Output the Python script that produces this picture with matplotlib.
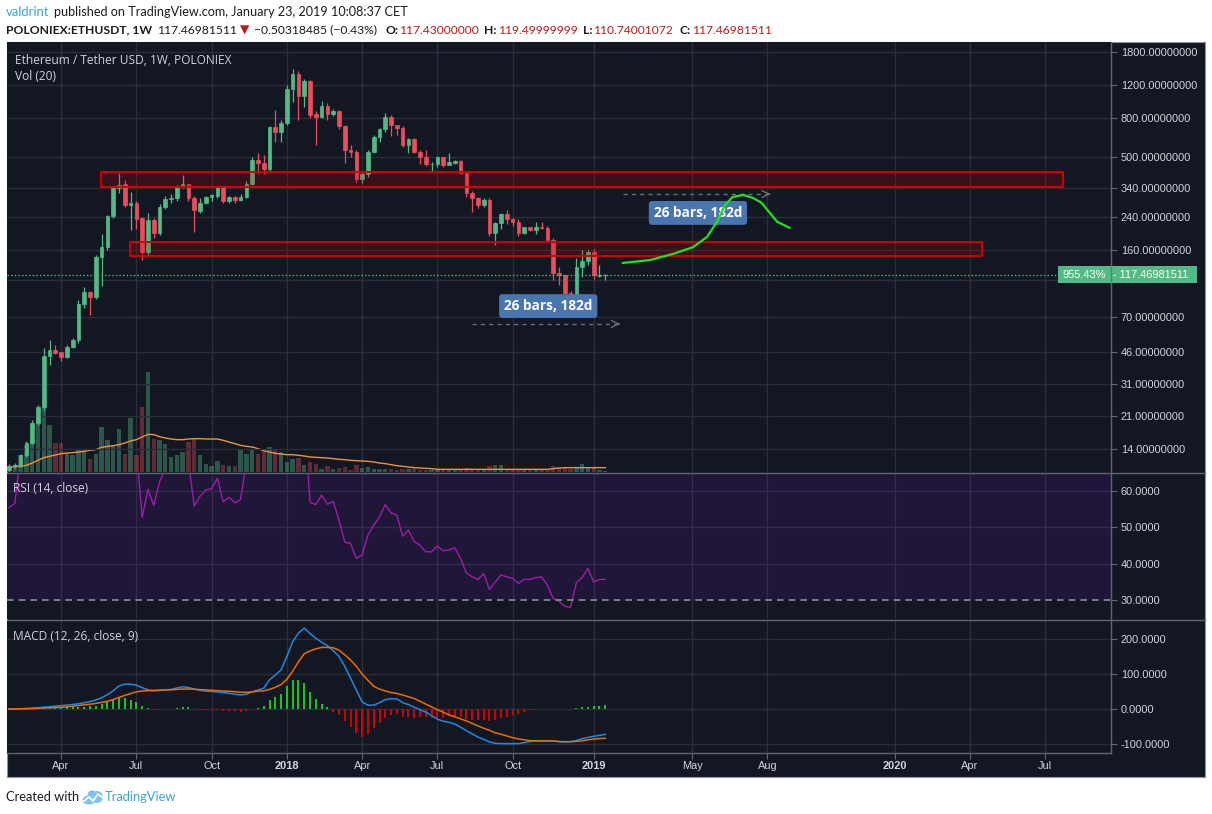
import numpy as np
import pandas as pd
import matplotlib
matplotlib.use("Agg")
import matplotlib.pyplot as plt
import matplotlib.dates as mdates
from matplotlib.lines import Line2D
from matplotlib.patches import Rectangle, Ellipse
from matplotlib.transforms import Affine2D
from matplotlib.ticker import NullLocator

plt.rcParams["font.family"] = ["Liberation Sans", "DejaVu Sans"]

# ---------------- data (weekly ETH/USDT) ----------------
first_week = "2017-01-30"
opens = [10.8, 11.3, 11.5, 12.9, 15.0, 19.2, 23.4, 43.6, 47.0, 45.5,
         43.0, 48.8, 53.0, 82.0, 95.8, 90.0, 147.0, 165.0, 241.0, 340.0,
         356.0, 276.0, 282.0, 235.0, 156.0, 229.0, 197.0, 270.0, 297.0, 303.0,
         349.0, 356.0, 300.0, 258.0, 285.0, 305.0, 310.0, 343.0, 292.0, 305.0,
         295.0, 305.0, 358.0, 478.0, 464.0, 430.0, 716.0, 680.0, 752.0, 1140.0,
         1380.0, 1050.0, 1266.0, 840.0, 816.0, 932.0, 840.0, 870.0, 728.0, 543.0,
         531.0, 378.0, 405.0, 530.0, 636.0, 705.0, 810.0, 735.0, 712.0, 575.0,
         620.0, 531.0, 500.0, 456.0, 458.0, 495.0, 453.0, 462.0, 475.0, 411.0,
         320.0, 300.0, 276.0, 295.0, 196.0, 223.0, 248.0, 232.0, 226.0, 197.0,
         211.0, 203.0, 212.0, 209.0, 180.0, 120.0, 117.0, 94.0, 89.0, 130.0,
         139.0, 155.0, 116.0, 117.43]
highs = [11.6, 11.8, 13.2, 15.3, 20.0, 23.8, 48.0, 53.0, 50.0, 46.0,
         50.0, 54.0, 86.0, 101.0, 97.0, 150.0, 195.0, 245.0, 351.0, 410.0,
         376.0, 326.0, 290.0, 240.0, 250.0, 235.0, 280.0, 310.0, 315.0, 355.0,
         400.0, 358.0, 310.0, 300.0, 310.0, 315.0, 350.0, 348.0, 308.0, 310.0,
         318.0, 370.0, 500.0, 521.0, 510.0, 730.0, 880.0, 780.0, 1200.0, 1456.0,
         1420.0, 1300.0, 1280.0, 870.0, 990.0, 960.0, 900.0, 880.0, 740.0, 580.0,
         545.0, 420.0, 545.0, 650.0, 710.0, 857.0, 830.0, 740.0, 730.0, 630.0,
         630.0, 545.0, 540.0, 470.0, 505.0, 500.0, 521.0, 480.0, 478.0, 415.0,
         330.0, 305.0, 300.0, 300.0, 225.0, 252.0, 260.0, 236.0, 232.0, 212.0,
         212.0, 225.0, 225.0, 215.0, 185.0, 130.0, 118.0, 96.0, 145.0, 160.0,
         160.0, 161.0, 132.0, 119.5]
lows = [10.6, 11.0, 11.2, 12.6, 14.8, 18.8, 22.5, 39.0, 44.5, 41.0,
        42.5, 48.0, 51.0, 78.0, 72.0, 88.0, 102.0, 160.0, 235.0, 320.0,
        270.0, 204.0, 205.0, 141.0, 150.0, 185.0, 192.0, 262.0, 285.0, 290.0,
        340.0, 290.0, 199.0, 250.0, 280.0, 290.0, 300.0, 285.0, 282.0, 285.0,
        290.0, 300.0, 352.0, 408.0, 405.0, 420.0, 600.0, 600.0, 735.0, 980.0,
        783.0, 920.0, 800.0, 577.0, 800.0, 780.0, 820.0, 700.0, 464.0, 500.0,
        365.0, 360.0, 390.0, 520.0, 600.0, 680.0, 640.0, 650.0, 565.0, 520.0,
        520.0, 459.0, 445.0, 418.0, 440.0, 440.0, 450.0, 455.0, 405.0, 305.0,
        255.0, 265.0, 270.0, 190.0, 170.0, 205.0, 220.0, 215.0, 190.0, 195.0,
        200.0, 195.0, 205.0, 175.0, 110.0, 104.0, 90.0, 86.0, 88.0, 115.0,
        133.0, 112.0, 114.0, 110.74]
closes = [11.3, 11.5, 12.9, 15.0, 19.2, 23.4, 43.6, 47.0, 45.2, 43.0,
          48.8, 53.0, 82.0, 95.8, 90.0, 147.0, 165.0, 241.0, 340.0, 352.0,
          276.0, 282.0, 233.0, 155.0, 229.0, 197.0, 271.0, 297.0, 303.0, 349.0,
          356.0, 300.0, 260.0, 285.0, 305.0, 312.0, 343.0, 292.0, 305.0, 295.0,
          305.0, 358.0, 478.0, 464.0, 430.0, 716.0, 680.0, 752.0, 1140.0, 1380.0,
          1050.0, 1266.0, 830.0, 816.0, 932.0, 840.0, 870.0, 728.0, 543.0, 531.0,
          378.0, 405.0, 530.0, 636.0, 705.0, 810.0, 735.0, 712.0, 575.0, 620.0,
          531.0, 500.0, 456.0, 458.0, 495.0, 453.0, 470.0, 475.0, 411.0, 320.0,
          300.0, 276.0, 295.0, 196.0, 223.0, 248.0, 232.0, 226.0, 197.0, 211.0,
          203.0, 212.0, 209.0, 180.0, 120.0, 117.0, 94.0, 89.0, 130.0, 139.0,
          155.0, 118.0, 117.43, 117.47]
volume = [15, 20, 50, 80, 95, 160, 195, 140, 87, 87,
          55, 52, 65, 65, 40, 55, 135, 97, 80, 130,
          55, 163, 50, 195, 300, 100, 95, 83, 45, 50,
          60, 90, 100, 50, 25, 17, 33, 20, 17, 17,
          65, 55, 70, 55, 70, 75, 67, 60, 30, 40,
          43, 20, 30, 25, 10, 17, 10, 12, 15, 5,
          20, 13, 15, 10, 10, 10, 8, 7, 8, 10,
          8, 6, 7, 6, 5, 5, 7, 5, 6, 12,
          10, 8, 6, 17, 20, 20, 8, 6, 8, 6,
          5, 6, 5, 8, 18, 12, 12, 8, 15, 23,
          15, 12, 6, 2]
volume_ma = [15, 16, 17, 20, 27, 35, 43, 47, 51, 55,
             57, 58, 60, 62, 65, 67, 74, 77, 79, 82,
             87, 93, 97, 105, 113, 112, 106, 102, 99, 97,
             97, 99, 100, 100, 99, 99, 99, 95, 90, 85,
             80, 77, 75, 70, 64, 60, 56, 54, 52, 52,
             50, 48, 45, 44, 43, 42, 40, 38, 37, 35,
             34, 33, 32, 30, 27, 25, 22, 19, 17, 15,
             13, 12, 11, 10, 8, 8, 8, 8, 8, 8,
             8, 8, 8, 8, 8, 8, 8, 8, 8, 8,
             8, 8, 8, 8, 10, 12, 13, 13, 13, 13,
             13, 13, 13, 13]
rsi = [55.5, 56.6, 70, 75, 80, 84, 88, 89, 87, 84,
       83, 84, 88, 89, 86, 89, 89, 90, 91, 90,
       80, 78, 72, 52.8, 60.5, 56.1, 62.6, 66, 70, 74,
       73, 68, 55.9, 58.6, 60.3, 60.7, 63.5, 57.1, 58.3, 56.8,
       57.7, 68, 78, 76, 72, 82, 80, 81, 86, 88,
       75, 80, 56.9, 56.3, 58.9, 56.4, 57.2, 52, 46, 45.6,
       41.5, 42.4, 47.9, 50.6, 52.9, 56.3, 54, 53.4, 47.6, 49.3,
       46.1, 45.1, 43.3, 43.3, 44.9, 43.6, 43.8, 44.4, 41.5, 37.5,
       36.4, 35.7, 37.3, 32.9, 35, 36.9, 36.4, 36, 34.6, 35.7,
       35.7, 36.2, 36.4, 34.1, 30.5, 29.7, 28.3, 28, 34.8, 36.2,
       38.7, 35, 35.7, 35.7]
macd = [0, 0.5, 1, 1.5, 2.5, 3.5, 5, 6.5, 8, 9.5,
        11, 13, 15, 18, 21, 25.7, 32, 41, 52, 66,
        71, 71, 68, 61, 55, 51.5, 53, 54, 56, 60,
        63.5, 61.5, 57, 53.5, 51, 50, 49, 47, 44.8, 42.5,
        40, 42.5, 49, 54, 59.5, 83, 97, 112, 150, 192,
        217, 231, 216, 202, 191, 181, 167, 150, 122, 88,
        54, 20, 11, 11, 18, 27, 29.5, 29, 18, 13,
        5, -2, -9, -19, -29, -35, -38, -43, -52, -62,
        -71, -80, -87, -94, -98, -99, -99, -99, -99, -96,
        -93, -91, -90.5, -90.5, -91, -93, -94.5, -93.5, -90, -85,
        -81, -78, -75, -72.5]
signal = [0, 0.2, 0.5, 0.8, 1.3, 2, 2.8, 3.6, 4.2, 4.8,
          6, 8, 10, 12, 13.5, 16, 19, 22, 27, 33,
          39, 44, 49, 51.5, 52.5, 53.3, 54, 54.5, 55, 56,
          57, 57, 56.5, 55.5, 54.5, 53.5, 52.5, 51.4, 50.5, 49.5,
          48, 47.5, 49, 51, 52, 56, 62, 70, 85, 108,
          135, 158, 166, 172, 176, 176, 175, 168, 155, 140,
          122, 100, 82, 65, 57, 51.5, 47, 44.5, 40, 35,
          30, 22, 14, 6, -2, -9, -17, -22, -28, -34,
          -41, -48, -55, -61, -68, -72, -77, -82, -85.5, -88,
          -90.5, -91, -91.4, -91.4, -91.5, -93, -93.3, -93.3, -92.5, -91,
          -88, -86, -84.5, -83.8]
last_price = 117.46981511

# drawings on the chart
zones = [("2017-05-21", "2020-07-27", 345, 414), ("2017-06-25", "2020-04-20", 148, 176)]
curve_dates = ["2019-02-11", "2019-03-16", "2019-04-13", "2019-05-07", "2019-05-24", "2019-06-05",
               "2019-06-15", "2019-06-24", "2019-07-07", "2019-07-19", "2019-07-29", "2019-08-08",
               "2019-08-17", "2019-09-01"]
curve_prices = [136, 141, 152, 165, 187, 225, 277, 305, 313, 301, 284, 251, 225, 209]
ranges = [("2018-08-13", "2019-02-11", 64.5, "2018-11-13", 80.3),
          ("2019-02-11", "2019-08-12", 316, "2019-05-13", 251)]

price_ticks = [14, 21, 31, 46, 70, 110, 160, 240, 340, 500, 800, 1200, 1800]
hidden_tick = 110  # covered by the last-price tag
rsi_ticks = [30, 40, 50, 60]
macd_ticks = [-100, 0, 100, 200]
time_ticks = ["2017-04-03", "2017-07-03", "2017-10-02", "2018-01-01", "2018-04-02", "2018-07-02",
              "2018-10-01", "2019-01-07", "2019-05-06", "2019-08-05", "2020-01-06", "2020-04-06",
              "2020-07-06"]
time_labels = ["Apr", "Jul", "Oct", "2018", "Apr", "Jul", "Oct", "2019", "May", "Aug", "2020", "Apr", "Jul"]

# ---------------- figure ----------------
W, H = 1212, 814
BG = "#131722"
GRID = "#2a2e39"
SEP = "#62656f"
TXT = "#d1d4dc"
GREEN = "#53b987"
RED = "#eb4d5c"

fig = plt.figure(figsize=(W / 100, H / 100), dpi=100)
fig.patch.set_facecolor("white")
PX = Affine2D().scale(1, -1).translate(0, H)  # pixel coords, origin top-left


def rect(x0, y0, x1, y1):
    return [x0 / W, 1 - y1 / H, (x1 - x0) / W, (y1 - y0) / H]


bg = fig.add_axes(rect(7, 42, 1205, 777))
bg.set_facecolor(BG)
bg.set_xticks([])
bg.set_yticks([])
for s in bg.spines.values():
    s.set_color("#8f929b")

weeks = pd.date_range(first_week, periods=len(closes), freq="7D")
x = mdates.date2num(weeks)
o, h, l, c = map(np.array, (opens, highs, lows, closes))
up = c >= o
cols = np.where(up, GREEN, RED)

d0 = mdates.date2num(pd.Timestamp(first_week))
xlim = (d0 - 2.42, d0 + 1332.5)
tnum = mdates.date2num(pd.to_datetime(time_ticks))

ax_vol = fig.add_axes(rect(7, 42, 1111, 472))
ax = fig.add_axes(rect(7, 42, 1111, 472), sharex=ax_vol)
ax_rsi = fig.add_axes(rect(7, 473, 1111, 619), sharex=ax_vol)
ax_macd = fig.add_axes(rect(7, 620, 1111, 753), sharex=ax_vol)

ax_vol.set_facecolor(BG)
ax.patch.set_alpha(0)
for a in (ax_vol, ax, ax_rsi, ax_macd):
    for s in a.spines.values():
        s.set_visible(False)
for a in (ax_rsi, ax_macd):
    a.set_facecolor(BG)

# volume
vcols = [(83 / 255, 185 / 255, 135 / 255, 0.40) if u else (235 / 255, 77 / 255, 92 / 255, 0.36) for u in up]
ax_vol.bar(x, volume, width=5.3, color=vcols, linewidth=0)
ax_vol.plot(x, volume_ma, color="#f0923c", lw=1)
ax_vol.set_ylim(0, 1290)
ax_vol.set_yticks([])
ax_vol.tick_params(axis="x", length=0, labelbottom=False)

# price
ax.set_yscale("log")
lo, hi = 10.53, 2034
ax.set_ylim(lo, hi)
ax.vlines(x, l, h, colors=cols, lw=0.9, zorder=3)
blo = np.minimum(o, c)
bhi = np.maximum(o, c)
ax.bar(x, bhi - blo, bottom=blo, width=4.4, color=cols, edgecolor=cols, lw=0.5, zorder=4)
ax.axhline(last_price, color=GREEN, lw=1, ls=(0, (1, 1.6)), zorder=5)

for a, b, p0, p1 in zones:
    xa = mdates.date2num(pd.Timestamp(a))
    xb = mdates.date2num(pd.Timestamp(b))
    ax.add_patch(Rectangle((xa, p0), xb - xa, p1 - p0, facecolor=(0.8, 0, 0, 0.2),
                           edgecolor="#d00000", lw=1.4, zorder=6))

for a, b, p, lab_d, lab_p in ranges:
    xa = mdates.date2num(pd.Timestamp(a))
    xb = mdates.date2num(pd.Timestamp(b))
    ax.plot([xa, xb - 3], [p, p], color="#6a6d78", lw=1, ls=(0, (3, 3)), zorder=6)
    ax.annotate("", xy=(xb, p), xytext=(xb - 8, p),
                arrowprops=dict(arrowstyle="->,head_length=0.5,head_width=0.25", color="#6a6d78", lw=1),
                zorder=6)
    ax.text(mdates.date2num(pd.Timestamp(lab_d)), lab_p, "26 bars, 182d", ha="center", va="center",
            color="white", fontsize=9.8, fontweight="bold", family=["Open Sans", "DejaVu Sans"], zorder=7,
            bbox=dict(boxstyle="round,pad=0.36,rounding_size=0.25", fc="#4a76b0", ec="none"))

ax.plot(mdates.date2num(pd.to_datetime(curve_dates)), curve_prices, color="#22e022", lw=1.6,
        solid_capstyle="round", zorder=8)

ax.yaxis.tick_right()
ax.set_yticks(price_ticks)
ax.set_yticklabels(["" if v == hidden_tick else f"{v:.8f}" for v in price_ticks])
ax.yaxis.set_minor_locator(NullLocator())
ax.tick_params(axis="x", length=0, labelbottom=False)

# RSI
ax_rsi.axhspan(30, 70, color="#9915ff", alpha=0.1, lw=0)
ax_rsi.plot(x, rsi, color="#9b1fa8", lw=1)
ax_rsi.axhline(30, color="#8a8d96", lw=1.2, ls=(0, (4, 3)))
ax_rsi.set_ylim(24.8, 65)
ax_rsi.yaxis.tick_right()
ax_rsi.set_yticks(rsi_ticks)
ax_rsi.set_yticklabels([f"{v:.4f}" for v in rsi_ticks])
ax_rsi.tick_params(axis="x", length=0, labelbottom=False)

# MACD
hist = np.array(macd) - np.array(signal)
ax_macd.vlines(x, 0, hist, colors=np.where(hist >= 0, "#1fd41f", "#e00000"), lw=1.3)
ax_macd.plot(x, macd, color="#1e88e5", lw=1.1)
ax_macd.plot(x, signal, color="#ef6c00", lw=1.1)
ax_macd.set_ylim(-125.7, 254.3)
ax_macd.yaxis.tick_right()
ax_macd.set_yticks(macd_ticks)
ax_macd.set_yticklabels([f"{v:.4f}" for v in macd_ticks])

ax_vol.set_xlim(*xlim)
ax_macd.set_xticks(tnum)
ax_macd.set_xticklabels(time_labels)
for t in ax_macd.get_xticklabels():
    if t.get_text().isdigit():
        t.set_fontweight("bold")

for a in (ax, ax_rsi, ax_macd):
    a.tick_params(axis="y", length=4, color=SEP, labelcolor=TXT, labelsize=7.9, pad=3)
    for v in a.get_yticks():
        if a is ax_rsi and v == 30:
            continue
        a.axhline(v, color=GRID, lw=1, zorder=0)
for a in (ax_vol, ax_rsi, ax_macd):
    for t in tnum:
        a.axvline(t, color=GRID, lw=1, zorder=0)
ax_macd.tick_params(axis="x", length=4, color=SEP, labelcolor=TXT, labelsize=7.9, pad=2)

# separators
for xs, ys in [((1111, 1111), (42, 753)), ((7, 1205), (472.5, 472.5)),
               ((7, 1205), (619.5, 619.5)), ((7, 1111), (753, 753))]:
    fig.add_artist(Line2D(xs, ys, transform=PX, color=SEP, lw=1, zorder=4))

# last price tag
ypx = 42 + 430 * np.log(hi / last_price) / np.log(hi / lo)
fig.add_artist(Rectangle((1058, ypx - 8.5), 139, 17, transform=PX, facecolor=GREEN, edgecolor="none", zorder=5))
fig.add_artist(Line2D((1111, 1111), (ypx - 8.5, ypx + 8.5), transform=PX, color="#3f8f69", lw=1, zorder=6))
fig.text(1084, ypx, "955.43%", transform=PX, color="white", fontsize=7.9, ha="center", va="center", zorder=6)
fig.text(1113, ypx, "- " + f"{last_price:.8f}", transform=PX, color="white", fontsize=7.9,
         ha="left", va="center", zorder=6)

# pane legends
LEG = ["Open Sans", "DejaVu Sans"]
fig.text(15, 60, "Ethereum / Tether USD, 1W, POLONIEX", transform=PX, color=TXT, fontsize=8.6,
         family=LEG, va="center")
fig.text(15, 77, "Vol (20)", transform=PX, color=TXT, fontsize=8.6, family=LEG, va="center")
fig.text(13, 489, "RSI (14, close)", transform=PX, color=TXT, fontsize=8.6, family=LEG, va="center")
fig.text(13, 637, "MACD (12, 26, close, 9)", transform=PX, color=TXT, fontsize=8.6, family=LEG, va="center")

# header
HF = ["Lato", "DejaVu Sans"]
DARK = "#1b1b1f"
VAL = "#b71c1c"
fig.text(6, 12, "valdrint", transform=PX, color="#3ba3db", fontsize=9.4, family=HF, va="center")
fig.text(54, 12, "published on TradingView.com, January 23, 2019 10:08:37 CET", transform=PX,
         color=DARK, fontsize=9.1, family=HF, va="center")
header2 = [(6, "POLONIEX:ETHUSDT, 1W", DARK, "bold"), (157, "117.46981511", DARK, "normal"),
           (240, "\u25bc", VAL, "normal"), (254, "\u22120.50318485 (\u22120.43%)", DARK, "normal"),
           (386, "O:", DARK, "bold"), (399, "117.43000000", VAL, "normal"),
           (484, "H:", DARK, "bold"), (498, "119.49999999", VAL, "normal"),
           (583, "L:", DARK, "bold"), (593, "110.74001072", VAL, "normal"),
           (680, "C:", DARK, "bold"), (692, "117.46981511", VAL, "normal")]
for xp, s, col, wt in header2:
    fig.text(xp, 30, s, transform=PX, color=col, fontsize=8.7, fontweight=wt, family=HF, va="center")

# footer
fig.text(6, 797, "Created with", transform=PX, color=DARK, fontsize=9.3, family=HF, va="center")
for cx, cy, w_, h_ in [(89, 800, 13, 9), (97, 797, 12, 12), (92, 795, 9, 9)]:
    fig.add_artist(Ellipse((cx, cy), w_, h_, transform=PX, facecolor="#7cc4ee", edgecolor="none", zorder=5))
fig.add_artist(Line2D((84, 89, 93, 98, 103), (801, 797, 801, 794, 798), transform=PX, color="white",
                      lw=1.3, zorder=6))
fig.text(105, 797, "TradingView", transform=PX, color="#3ba3db", fontsize=9.3, family=HF, va="center")

fig.savefig("out.png", dpi=100, facecolor="white")
